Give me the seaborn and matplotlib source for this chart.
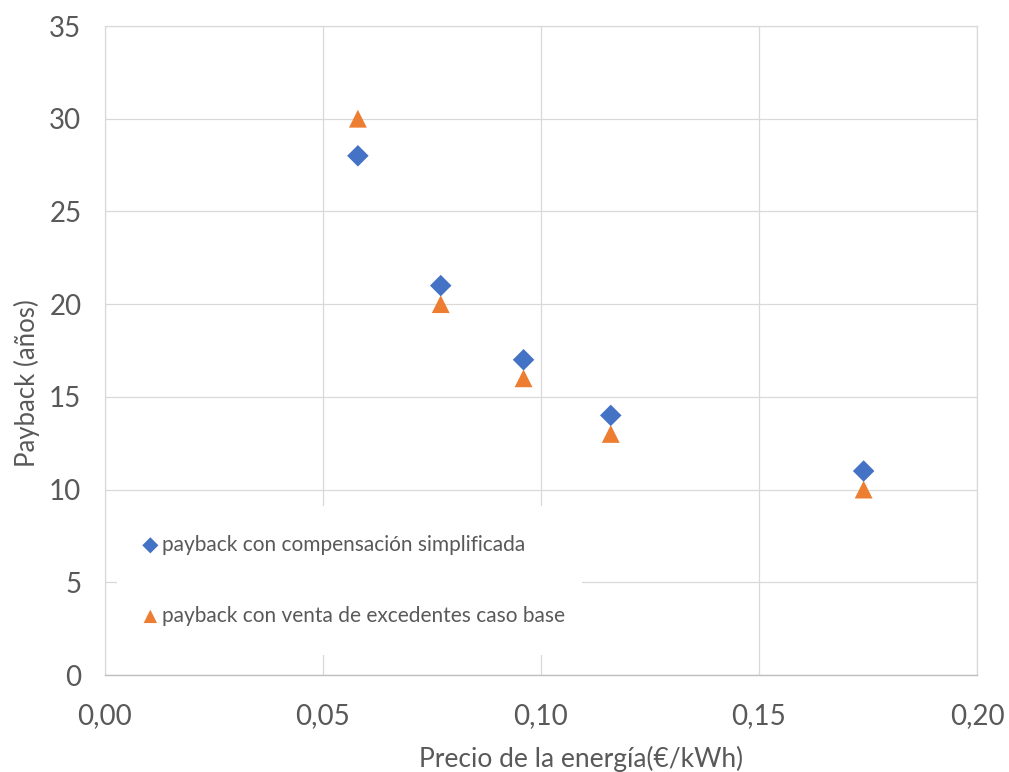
import matplotlib
matplotlib.use("Agg")
import matplotlib.pyplot as plt
from matplotlib.ticker import FuncFormatter
import pandas as pd
import seaborn as sns

# Energy price (€/kWh) and payback years for each scenario
precio = [0.058, 0.077, 0.096, 0.116, 0.174]
payback_compensacion = [28, 21, 17, 14, 11]
payback_venta = [30, 20, 16, 13, 10]

label_compensacion = "payback con compensación simplificada"
label_venta = "payback con venta de excedentes caso base"

x_ticks = [0.00, 0.05, 0.10, 0.15, 0.20]
y_ticks = [0, 5, 10, 15, 20, 25, 30, 35]

sns.set_theme(style="white")
plt.rcParams["font.family"] = ["Lato", "DejaVu Sans"]

TEXT = "#595959"
GRID = "#d9d9d9"
BLUE = "#4472C4"
ORANGE = "#ED7D31"

df_comp = pd.DataFrame({"precio": precio, "payback": payback_compensacion})
df_venta = pd.DataFrame({"precio": precio, "payback": payback_venta})

fig = plt.figure(figsize=(10.09, 7.72), dpi=100)
ax = fig.add_axes([105 / 1009, 1 - 675 / 772, 872 / 1009, 649 / 772])

sns.scatterplot(data=df_comp, x="precio", y="payback", ax=ax, marker="D",
                s=120, color=BLUE, edgecolor="none", label=label_compensacion,
                zorder=4)
sns.scatterplot(data=df_venta, x="precio", y="payback", ax=ax, marker="^",
                s=165, color=ORANGE, edgecolor="none", label=label_venta,
                zorder=3)

ax.set_xlim(0, 0.20)
ax.set_ylim(0, 35)
ax.set_xticks(x_ticks)
ax.set_yticks(y_ticks)
ax.xaxis.set_major_formatter(FuncFormatter(lambda v, _: f"{v:.2f}".replace(".", ",")))
ax.yaxis.set_major_formatter(FuncFormatter(lambda v, _: f"{v:.0f}"))

ax.grid(True, color=GRID, linewidth=0.9)
ax.set_axisbelow(True)
for side in ("left", "top", "right"):
    ax.spines[side].set_color(GRID)
    ax.spines[side].set_linewidth(0.9)
ax.spines["bottom"].set_color("#bfbfbf")
ax.spines["bottom"].set_linewidth(1.0)

ax.tick_params(axis="both", length=0, labelsize=20, labelcolor=TEXT)
ax.tick_params(axis="x", pad=20)
ax.tick_params(axis="y", pad=17)

ax.set_xlabel("Precio de la energía(€/kWh)", fontsize=19, color=TEXT)
ax.set_ylabel("Payback (años)", fontsize=18.5, color=TEXT)
ax.xaxis.set_label_coords((581 - 105) / 872, (675 - 746) / 649)
ax.yaxis.set_label_coords((40 - 105) / 872, (675 - 383) / 649)

leg = ax.legend(loc="lower left",
                bbox_to_anchor=((117 - 105) / 872, (675 - 655) / 649,
                                (582 - 117) / 872, 0.2),
                mode="expand", frameon=True, fancybox=False,
                fontsize=15, labelcolor=TEXT, borderpad=1.4,
                labelspacing=2.45, handletextpad=0.34, handlelength=0.4,
                markerscale=0.75, borderaxespad=0)
leg.get_frame().set_facecolor("white")
leg.get_frame().set_edgecolor("none")
leg.get_frame().set_alpha(1)

fig.savefig("out.png", dpi=100, facecolor="white")
